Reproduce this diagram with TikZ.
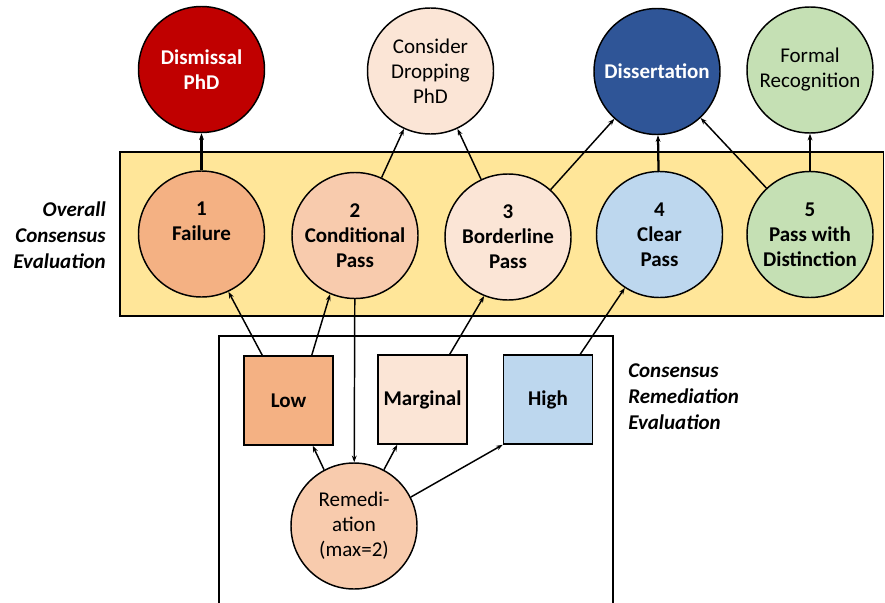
\documentclass[tikz,border=0pt]{standalone}
\usepackage{fontspec}
\setmainfont{Carlito}
\usetikzlibrary{arrows.meta}
\definecolor{dismc}{HTML}{C00000}
\definecolor{lpeach}{HTML}{FBE5D6}
\definecolor{dissc}{HTML}{2F5597}
\definecolor{lgreen}{HTML}{C5E0B4}
\definecolor{orangec}{HTML}{F4B183}
\definecolor{peachc}{HTML}{F8CBAD}
\definecolor{lblue}{HTML}{BDD7EE}
\definecolor{bandc}{HTML}{FFE699}
\begin{document}
\begin{tikzpicture}[x=0.75pt,y=-0.75pt,
  every node/.style={font=\fontsize{15.75}{18.75}\selectfont, align=center, inner sep=0pt},
  circ/.style={circle, draw=black, line width=1.1pt, minimum size=94.5pt},
  sq/.style={rectangle, draw=black, line width=1.1pt, minimum width=66.75pt, minimum height=66.75pt},
  arr/.style={-{Stealth[length=5pt,width=3.6pt]}, line width=1.1pt},
  tarr/.style={arr, line width=1.7pt},
  lab/.style={font=\fontsize{15.75}{19.5}\selectfont\bfseries\itshape}
]
\useasboundingbox (0,0) rectangle (885,603);
% bands
\draw[fill=bandc, line width=1.1pt] (120,152) rectangle (883.5,316);
\draw[line width=1pt] (219,615) -- (219,336) -- (613,336) -- (613,615);
% top row
\node[circ, fill=dismc, text=white, font=\fontsize{15.75}{18.75}\selectfont\bfseries] (dism) at (201.5,69.5) {Dismissal\\PhD};
\node[circ, fill=lpeach] (consider) at (430.5,71) {Consider\\Dropping\\PhD};
\node[circ, fill=dissc, text=white, font=\fontsize{15.75}{18.75}\selectfont\bfseries] (diss) at (657,71.5) {Dissertation};
\node[circ, fill=lgreen] (formal) at (810,70) {Formal\\Recognition};
% middle row
\node[circ, fill=orangec, font=\fontsize{15.75}{18.75}\selectfont\bfseries] (fail) at (201.5,234) {1\\Failure\\\mbox{}};
\node[circ, fill=peachc, font=\fontsize{15.75}{18.75}\selectfont\bfseries] (cond) at (355,235.5) {2\\Conditional\\Pass};
\node[circ, fill=lpeach, font=\fontsize{15.75}{18.75}\selectfont\bfseries] (border) at (508,237) {3\\Borderline\\Pass};
\node[circ, fill=lblue, font=\fontsize{15.75}{18.75}\selectfont\bfseries] (clear) at (659.5,234.5) {4\\Clear\\Pass};
\node[circ, fill=lgreen, font=\fontsize{15.75}{18.75}\selectfont\bfseries] (dist) at (810,234.5) {5\\Pass with\\Distinction};
% squares
\node[sq, fill=orangec, font=\fontsize{15.75}{18.75}\selectfont\bfseries] (low) at (288.5,400.5) {Low};
\node[sq, fill=lpeach, font=\fontsize{15.75}{18.75}\selectfont\bfseries] (marg) at (422.5,399.5) {Marginal};
\node[sq, fill=lblue, font=\fontsize{15.75}{18.75}\selectfont\bfseries] (high) at (548,399.5) {High};
\node[circ, fill=peachc] (remed) at (354,526) {Remedi-\\ation\\(max=2)};
% labels
\node[lab, anchor=east, align=right] (lab1) at (106,235) {Overall\\Consensus\\Evaluation};
\node[lab, anchor=west, align=left] (lab2) at (628,397) {Consensus\\Remediation\\Evaluation};
% edges upper
\draw[tarr] (fail) -- (dism);
\draw[arr] (cond) -- (consider);
\draw[arr] (border) -- (consider);
\draw[arr] (border) -- (diss);
\draw[tarr] (clear) -- (diss);
\draw[arr] (dist) -- (diss);
\draw[tarr] (dist) -- (formal);
% edges lower
\draw[arr] ([xshift=14.25pt]low.north west) -- (fail.-65);
\draw[arr] ([xshift=-16.5pt]low.north east) -- (cond.-113);
\draw[arr] ([xshift=-13.5pt]marg.north east) -- (border.-112);
\draw[arr] ([xshift=-9.75pt]high.north east) -- (clear.-123);
\draw[arr] (cond) -- (remed);
\draw[arr] (remed.118) -- ([xshift=-15.75pt]low.south east);
\draw[arr] (remed.62) -- ([xshift=15pt]marg.south west);
\draw[arr] (remed.27) -- (high.south west);
\end{tikzpicture}
\end{document}
